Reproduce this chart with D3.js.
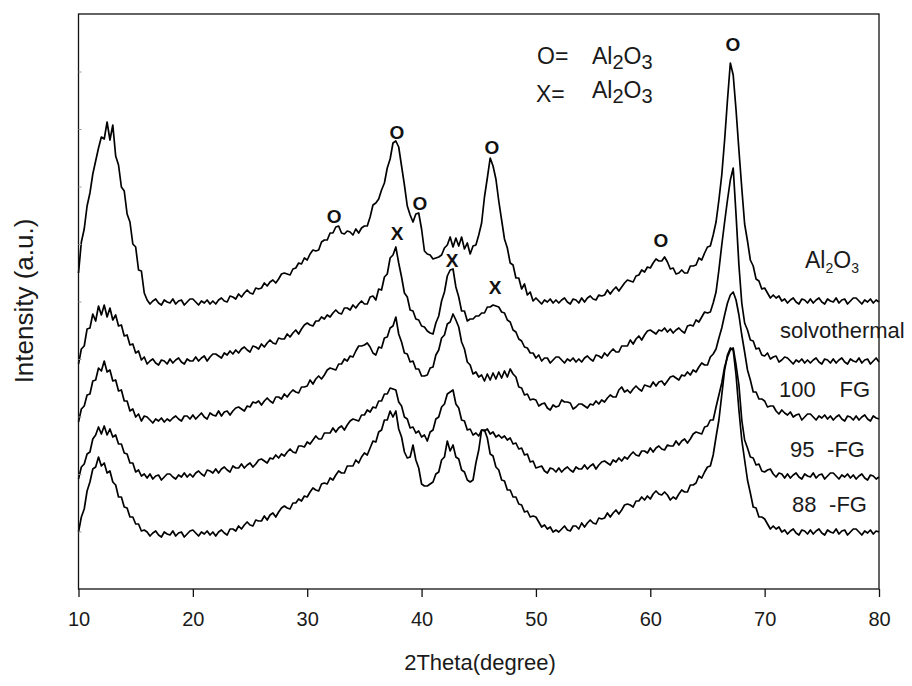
<!DOCTYPE html>
<html>
<head>
<meta charset="utf-8">
<script src="https://cdnjs.cloudflare.com/ajax/libs/d3/7.8.5/d3.min.js"></script>
<style>
  body { margin: 0; background: #fff; }
  svg { display: block; font-family: Arial, "Liberation Sans", sans-serif; }
</style>
</head>
<body>
<svg id="xrd" width="912" height="686"></svg>
<script>
// 2theta grid (degree), 0.25 step from 10 to 80
const twoTheta = d3.range(281).map(i => 10 + i * 0.25);

// stacked intensities (a.u.), one value per grid point
const al2o3 = [
  316,347,360,383,396,415,428,441, 452,450,467,449,464,433,424,402,
  398,375,367,345,342,319,318,296, 289,285,288,290,286,284,289,287,
  286,290,285,288,289,284,287,290, 290,287,284,288,286,289,285,288,
  285,289,291,288,287,293,292,290, 295,292,296,299,296,295,301,300,
  301,306,303,307,309,306,310,315, 316,315,314,320,321,326,325,331,
  329,335,339,338,339,347,349,349, 356,356,362,363,356,355,358,357,
  354,360,356,361,363,363,372,384, 386,390,399,406,421,430,446,448,
  442,423,404,383,374,367,375,376, 360,338,335,334,330,331,332,334,
  341,344,352,342,351,343,352,340, 346,335,343,344,354,366,392,411,
  431,423,410,388,369,350,341,326, 324,311,311,300,305,294,297,288,
  291,288,285,289,287,290,286,289, 286,289,291,287,285,290,289,286,
  291,287,291,293,290,289,294,293, 294,299,295,299,302,298,302,306,
  309,308,307,313,314,319,317,322, 321,326,330,328,328,332,327,320,
  321,315,316,319,316,316,323,323, 324,331,329,336,342,343,354,367,
  389,414,449,489,526,514,479,439, 401,365,348,329,323,310,308,300,
  301,296,291,294,291,293,288,290, 286,289,291,287,285,290,289,286,
  290,286,289,291,287,285,290,288, 287,291,286,289,290,285,288,291,
  291,288,285,289,287,290,286,289, 287
];
const solvothermal = [
  225,240,243,260,261,275,268,283, 274,284,272,281,269,274,263,264,
  253,254,244,245,236,238,229,232, 225,228,230,226,224,229,228,225,
  230,226,229,231,227,225,230,228, 228,232,228,231,233,228,232,235,
  235,233,231,236,234,238,235,239, 236,240,242,239,237,243,242,240,
  245,242,246,249,246,245,251,250, 250,255,252,256,259,255,260,264,
  266,264,263,268,268,272,270,274, 272,276,279,276,275,281,281,279,
  284,281,285,288,285,285,292,293, 289,300,299,312,315,331,334,342,
  326,312,296,292,279,278,270,269, 263,262,258,256,255,266,273,288,
  297,313,319,320,302,292,278,278, 268,270,270,273,273,276,276,282,
  282,284,283,282,277,276,269,267, 259,257,250,248,242,241,236,236,
  231,234,228,231,231,226,229,232, 232,229,226,230,228,231,227,230,
  227,231,233,230,228,234,233,231, 236,233,237,240,237,237,243,243,
  243,249,245,250,253,249,254,258, 259,257,255,259,258,261,257,260,
  256,259,261,258,256,263,264,263, 269,267,272,277,276,277,286,297,
  319,344,367,389,409,421,374,324, 286,266,259,249,248,240,241,234,
  233,236,230,232,233,227,229,232, 231,228,225,229,227,230,226,229,
  226,229,231,227,225,230,229,226, 230,226,229,231,227,225,230,228,
  227,231,226,229,230,225,228,231, 227
];
const fg100 = [
  167,180,183,194,195,208,209,221, 218,228,217,219,208,209,198,199,
  188,188,178,180,172,175,168,173, 172,169,166,170,168,171,167,170,
  168,171,173,170,168,173,173,170, 174,170,173,176,172,170,176,174,
  173,178,173,177,178,174,178,181, 182,180,178,183,182,187,186,188,
  184,188,191,188,186,192,192,190, 195,192,196,199,197,196,202,202,
  203,209,205,210,213,210,214,219, 221,220,219,225,225,230,228,233,
  232,238,243,243,244,246,242,236, 234,242,241,251,252,261,263,272,
  255,247,236,235,227,228,220,220, 213,213,214,221,222,234,239,251,
  254,265,267,275,269,262,247,240, 227,224,215,217,212,214,208,215,
  209,216,210,217,211,218,212,220, 215,212,202,201,194,195,189,190,
  189,183,185,186,181,179,184,182, 183,189,187,187,186,180,182,185,
  185,183,181,185,184,188,185,189, 187,191,194,192,192,199,202,197,
  199,196,200,203,200,198,204,203, 202,207,203,207,208,204,208,212,
  213,211,209,214,213,217,214,219, 217,222,226,224,224,232,235,240,
  251,261,274,286,294,297,289,274, 254,237,219,209,197,197,190,190,
  188,182,183,183,178,175,179,176, 174,177,172,174,175,169,172,175,
  175,172,169,173,171,174,170,173, 169,172,174,170,168,173,172,169,
  173,169,172,174,170,168,173,171, 170
];
const fg95 = [
  110,122,125,135,137,150,154,162, 155,163,154,160,152,154,145,145,
  136,135,126,126,117,119,113,115, 111,115,110,113,114,109,112,115,
  115,112,110,114,112,116,112,115, 112,116,118,115,113,119,118,116,
  120,116,120,122,119,117,123,121, 121,125,121,124,126,122,125,129,
  130,128,126,131,130,134,131,135, 133,137,140,137,136,143,143,142,
  147,145,149,153,150,150,156,156, 156,161,157,161,163,159,164,168,
  170,169,168,174,174,179,177,182, 181,188,188,195,195,201,200,199,
  187,183,172,170,161,162,156,158, 152,154,148,157,159,170,172,182,
  185,195,197,199,185,181,169,168, 159,160,154,156,153,159,158,160,
  155,157,152,154,151,153,149,151, 145,146,140,141,134,135,127,128,
  121,122,123,118,116,121,120,117, 121,117,120,122,119,117,122,120,
  120,124,120,123,125,120,124,127, 128,126,124,129,127,131,128,132,
  130,134,137,134,133,138,138,136, 141,137,141,143,140,139,144,143,
  143,148,144,148,150,146,150,155, 157,156,155,162,163,169,169,182,
  194,206,222,232,239,241,224,204, 169,149,141,132,131,124,125,118,
  117,119,120,115,112,116,115,111, 115,111,114,116,112,110,115,113,
  112,116,111,114,115,110,113,116, 116,113,110,114,112,115,111,114,
  110,113,115,111,109,114,113,110, 112
];
const fg88 = [
  57,72,80,98,107,120,122,132, 123,126,116,118,107,104,92,92,
  82,81,72,72,65,65,58,59, 57,53,56,58,54,52,57,55,
  54,58,53,56,57,52,55,58, 59,56,53,57,55,58,54,57,
  53,57,59,56,54,60,60,58, 63,60,64,67,64,63,69,68,
  68,73,69,74,76,72,77,81, 83,81,80,86,86,90,88,93,
  92,97,101,99,98,105,106,105, 111,109,114,118,116,116,123,123,
  123,129,126,132,136,134,141,148, 147,157,159,169,169,178,172,178,
  160,152,137,131,132,144,129,121, 105,103,103,105,107,115,117,129,
  132,148,138,144,132,130,119,117, 109,107,109,126,139,159,159,151,
  135,133,122,119,109,108,99,99, 92,92,85,84,77,78,72,73,
  72,67,62,64,60,62,57,59, 57,60,63,59,58,63,63,60,
  66,62,66,69,66,65,71,70, 71,76,72,76,79,75,79,84,
  85,84,82,88,88,92,89,93, 90,95,98,95,94,97,94,89,
  92,90,95,99,97,97,104,104, 106,113,111,117,122,123,134,152,
  169,194,219,234,241,239,214,179, 149,129,109,96,82,81,72,72,
  70,65,60,63,60,62,57,59, 55,58,60,56,54,59,58,55,
  59,55,58,60,56,54,59,57, 56,60,55,58,59,54,57,60,
  60,57,54,58,56,59,55,58, 57
];

// peak markers: O and X phases
const markType  = ["O", "O", "O", "O", "O", "O", "X", "X", "X"];
const markTheta = [32.35, 37.85, 39.86, 46.15, 60.93, 67.22, 37.85, 42.66, 46.42];
const markLevel = [366, 450, 379, 435, 342, 538, 349, 322, 295];

const xTicks = [10, 20, 30, 40, 50, 60, 70, 80];

const svg = d3.select("#xrd");
const plotLeft = 78.5, plotRight = 879, plotTop = 14, plotBottom = 589;

const x = d3.scaleLinear().domain([10, 80]).range([plotLeft, plotRight]);
const y = d3.scaleLinear().domain([0, 575]).range([plotBottom, plotTop]);

// curves
const line = d3.line()
    .x((d, i) => x(twoTheta[i]))
    .y(d => y(d));

[al2o3, solvothermal, fg100, fg95, fg88].forEach(s => {
    svg.append("path")
        .datum(s)
        .attr("d", line)
        .attr("fill", "none")
        .attr("stroke", "#000")
        .attr("stroke-width", 1.7)
        .attr("stroke-linejoin", "round");
});

// frame
svg.append("rect")
    .attr("x", plotLeft).attr("y", plotTop)
    .attr("width", plotRight - plotLeft).attr("height", plotBottom - plotTop)
    .attr("fill", "none")
    .attr("stroke", "#111")
    .attr("stroke-width", 1.3);

// x axis
const xAxis = svg.append("g")
    .attr("transform", `translate(0,${plotBottom})`)
    .call(d3.axisBottom(x).tickValues(xTicks).tickSize(8).tickPadding(15));
xAxis.select(".domain").remove();
xAxis.selectAll("line").attr("stroke", "#111").attr("stroke-width", 1.3);
xAxis.selectAll("text")
    .attr("font-size", 20)
    .attr("font-family", "Arial, 'Liberation Sans', sans-serif")
    .attr("fill", "#1a1a1a");

// faint inner ticks on the left
const yAxis = svg.append("g")
    .attr("transform", `translate(${plotLeft},0)`)
    .call(d3.axisLeft(y).tickValues(d3.range(1, 10).map(k => k * 57.5)).tickSize(-3).tickFormat(""));
yAxis.select(".domain").remove();
yAxis.selectAll("line").attr("stroke", "#999");

// axis titles
svg.append("text")
    .attr("x", 480).attr("y", 670)
    .attr("text-anchor", "middle")
    .attr("font-size", 22)
    .attr("fill", "#1a1a1a")
    .text("2Theta(degree)");

svg.append("text")
    .attr("transform", "translate(33,301) rotate(-90)")
    .attr("text-anchor", "middle")
    .attr("font-size", 26)
    .attr("fill", "#1a1a1a")
    .text("Intensity (a.u.)");

// peak markers
svg.selectAll(".mark")
    .data(markType)
    .enter()
    .append("text")
    .attr("class", "mark")
    .attr("x", (d, i) => x(markTheta[i]))
    .attr("y", (d, i) => y(markLevel[i]))
    .attr("text-anchor", "middle")
    .attr("font-size", 19)
    .attr("font-weight", "bold")
    .attr("fill", "#111")
    .text(d => d);

// Al2O3 with subscripts
function formula(g, px, py, big, small, shift) {
    const t = g.append("text").attr("x", px).attr("y", py).attr("fill", "#1a1a1a");
    t.append("tspan").attr("font-size", big).text("Al");
    t.append("tspan").attr("font-size", small).attr("dy", shift).text("2");
    t.append("tspan").attr("font-size", big).attr("dy", -shift).text("O");
    t.append("tspan").attr("font-size", small).attr("dy", shift).text("3");
}

// legend
svg.append("text").attr("x", 537).attr("y", 64).attr("font-size", 23).attr("fill", "#1a1a1a").text("O=");
svg.append("text").attr("x", 536).attr("y", 102).attr("font-size", 23).attr("fill", "#1a1a1a").text("X=");
formula(svg, 592, 64, 23, 20, 5);
formula(svg, 592, 98, 23, 20, 5);

// curve labels
formula(svg, 805, 268, 23, 14, 5);
const lab = (tx, px, py, anchor) => svg.append("text")
    .attr("x", px).attr("y", py)
    .attr("text-anchor", anchor || "start")
    .attr("font-size", 22)
    .attr("fill", "#1a1a1a")
    .text(tx);
lab("solvothermal", 780, 338);
lab("100", 779, 397);
lab("FG", 870, 397, "end");
lab("95", 790, 457);
lab("-FG", 865, 457, "end");
lab("88", 792, 512);
lab("-FG", 867, 512, "end");
</script>
</body>
</html>
